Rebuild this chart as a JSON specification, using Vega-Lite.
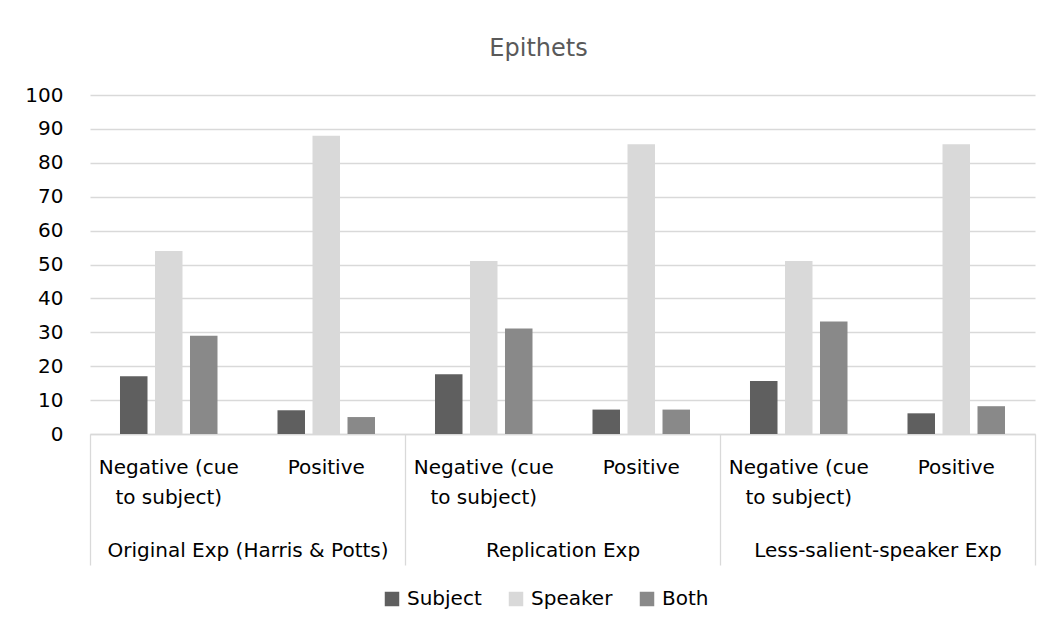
{
  "$schema": "https://vega.github.io/schema/vega-lite/v6.json",
  "width": 945,
  "height": 339,
  "autosize": {"type": "none"},
  "padding": {"left": 90, "top": 95, "right": 15, "bottom": 194},
  "background": "white",
  "config": {
    "font": "DejaVu Sans",
    "view": {"stroke": null},
    "axis": {"labelFont": "DejaVu Sans", "labelColor": "#000000", "labelFontSize": 20}
  },
  "title": {
    "text": "Epithets",
    "fontSize": 24,
    "fontWeight": "normal",
    "color": "#595959",
    "font": "DejaVu Sans",
    "anchor": "middle",
    "dx": -24,
    "offset": 24
  },
  "data": {
    "values": [
      {"exp": "Original Exp (Harris & Potts)", "cond": "Negative (cue to subject)", "key": "Original Exp (Harris & Potts)|Negative", "series": "Subject", "value": 17},
      {"exp": "Original Exp (Harris & Potts)", "cond": "Negative (cue to subject)", "key": "Original Exp (Harris & Potts)|Negative", "series": "Speaker", "value": 54},
      {"exp": "Original Exp (Harris & Potts)", "cond": "Negative (cue to subject)", "key": "Original Exp (Harris & Potts)|Negative", "series": "Both", "value": 29},
      {"exp": "Original Exp (Harris & Potts)", "cond": "Positive", "key": "Original Exp (Harris & Potts)|Positive", "series": "Subject", "value": 7},
      {"exp": "Original Exp (Harris & Potts)", "cond": "Positive", "key": "Original Exp (Harris & Potts)|Positive", "series": "Speaker", "value": 88},
      {"exp": "Original Exp (Harris & Potts)", "cond": "Positive", "key": "Original Exp (Harris & Potts)|Positive", "series": "Both", "value": 5},
      {"exp": "Replication Exp", "cond": "Negative (cue to subject)", "key": "Replication Exp|Negative", "series": "Subject", "value": 17.6},
      {"exp": "Replication Exp", "cond": "Negative (cue to subject)", "key": "Replication Exp|Negative", "series": "Speaker", "value": 51},
      {"exp": "Replication Exp", "cond": "Negative (cue to subject)", "key": "Replication Exp|Negative", "series": "Both", "value": 31.1},
      {"exp": "Replication Exp", "cond": "Positive", "key": "Replication Exp|Positive", "series": "Subject", "value": 7.2},
      {"exp": "Replication Exp", "cond": "Positive", "key": "Replication Exp|Positive", "series": "Speaker", "value": 85.5},
      {"exp": "Replication Exp", "cond": "Positive", "key": "Replication Exp|Positive", "series": "Both", "value": 7.2},
      {"exp": "Less-salient-speaker Exp", "cond": "Negative (cue to subject)", "key": "Less-salient-speaker Exp|Negative", "series": "Subject", "value": 15.6},
      {"exp": "Less-salient-speaker Exp", "cond": "Negative (cue to subject)", "key": "Less-salient-speaker Exp|Negative", "series": "Speaker", "value": 51},
      {"exp": "Less-salient-speaker Exp", "cond": "Negative (cue to subject)", "key": "Less-salient-speaker Exp|Negative", "series": "Both", "value": 33.2},
      {"exp": "Less-salient-speaker Exp", "cond": "Positive", "key": "Less-salient-speaker Exp|Positive", "series": "Subject", "value": 6.1},
      {"exp": "Less-salient-speaker Exp", "cond": "Positive", "key": "Less-salient-speaker Exp|Positive", "series": "Speaker", "value": 85.5},
      {"exp": "Less-salient-speaker Exp", "cond": "Positive", "key": "Less-salient-speaker Exp|Positive", "series": "Both", "value": 8.2}
    ]
  },
  "layer": [
    {
      "mark": {"type": "bar"},
      "encoding": {
        "x": {
          "field": "key",
          "type": "nominal",
          "sort": null,
          "scale": {"type": "band", "paddingInner": 0, "paddingOuter": 0},
          "axis": {
            "orient": "bottom",
            "title": null,
            "labelAngle": 0,
            "labelExpr": "indexof(datum.value, 'Negative') >= 0 ? ['Negative (cue', 'to subject)'] : 'Positive'",
            "labelLineHeight": 30,
            "labelBaseline": "top",
            "labelPadding": 23,
            "labelLimit": 0,
            "labelOverlap": false,
            "ticks": false,
            "tickSize": 0,
            "domain": true,
            "domainColor": "#d9d9d9",
            "domainWidth": 1.3,
            "grid": false
          }
        },
        "xOffset": {
          "field": "series",
          "type": "nominal",
          "sort": ["Subject", "Speaker", "Both"],
          "scale": {"paddingInner": 0.214, "paddingOuter": 0.857}
        },
        "y": {
          "field": "value",
          "type": "quantitative",
          "scale": {"domain": [0, 100], "nice": false},
          "axis": {
            "title": null,
            "tickCount": 10,
            "domain": false,
            "ticks": false,
            "labelPadding": 27,
            "gridColor": "#d9d9d9",
            "gridWidth": 1.3,
            "labelBaseline": "middle"
          }
        },
        "color": {
          "field": "series",
          "type": "nominal",
          "sort": ["Subject", "Speaker", "Both"],
          "scale": {"domain": ["Subject", "Speaker", "Both"], "range": ["#5f5f5f", "#d9d9d9", "#898989"]},
          "legend": {
            "title": null,
            "orient": "none",
            "direction": "horizontal",
            "legendX": 292,
            "legendY": 494,
            "padding": 0,
            "symbolType": "square",
            "symbolSize": 210,
            "symbolStrokeWidth": 0,
            "symbolOpacity": 1,
            "labelFont": "DejaVu Sans",
            "labelFontSize": 20,
            "labelColor": "#000000",
            "labelOffset": 5,
            "columnPadding": 24
          }
        }
      }
    },
    {
      "mark": {"type": "bar", "opacity": 0},
      "encoding": {
        "x": {
          "field": "exp",
          "type": "nominal",
          "sort": null,
          "scale": {"type": "band", "paddingInner": 0, "paddingOuter": 0},
          "axis": {
            "orient": "bottom",
            "title": null,
            "labelAngle": 0,
            "labelBaseline": "top",
            "labelLimit": 0,
            "labelOverlap": false,
            "ticks": true,
            "tickBand": "extent",
            "tickSize": 131,
            "tickColor": "#d9d9d9",
            "tickWidth": 1.3,
            "labelPadding": -25,
            "domain": false,
            "grid": false
          }
        }
      }
    }
  ],
  "resolve": {"scale": {"x": "independent"}}
}
